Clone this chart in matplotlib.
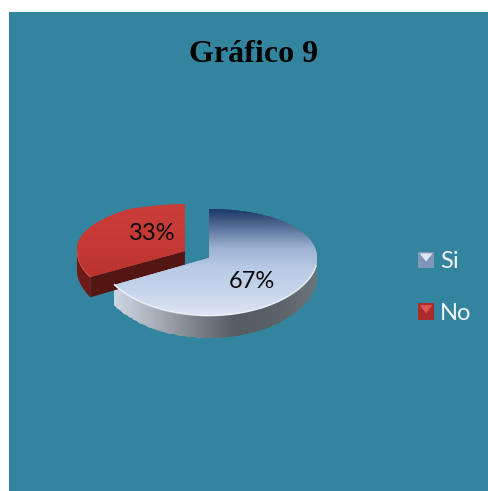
import matplotlib
matplotlib.use("Agg")
import matplotlib.pyplot as plt
import numpy as np
from matplotlib.colors import LinearSegmentedColormap
from matplotlib.legend_handler import HandlerBase
from matplotlib.patches import Patch, Polygon, Rectangle

labels = ["Si", "No"]
values = [67, 33]
title = "Gráfico 9"

W, H = 488, 491
teal = "#33849e"
depth = 0.35

# y goes through a slightly bent scale, so the front of the pie looks closer
def forward(y):
	return 52.5 * np.asarray(y) - 4.5 * np.asarray(y) ** 2

def inverse(v):
	return (52.5 - np.sqrt(np.maximum(52.5 ** 2 - 18.0 * np.asarray(v), 0))) / 9.0

def from_py(py):
	return inverse(254.5 - py)

def px_box(left, top, right, bottom):
	return [left / W, 1 - bottom / H, (right - left) / W, (bottom - top) / H]

# paints a gradient over the axes and clips it to the patch, stops are ascending
def shade(ax, patch, colors, stops, vertical=True, zorder=2):
	cm = LinearSegmentedColormap.from_list("c", colors)
	xs = np.array([-3.0, 3.0])
	ys = np.array([-3.0, 3.0])
	c = np.r_[0, np.linspace(0, 1, 60), 1]
	if vertical:
		ys = np.r_[-3.0, np.linspace(stops[0], stops[1], 60), 3.0]
		C = np.tile(c[:, None], (1, 2))
	else:
		xs = np.r_[-3.0, np.linspace(stops[0], stops[1], 60), 3.0]
		C = np.tile(c[None, :], (2, 1))
	m = ax.pcolormesh(xs, ys, C, cmap=cm, shading="gouraud", vmin=0, vmax=1, zorder=zorder)
	m.set_clip_path(patch)
	return m

def arc(center, r, a, b, n=80):
	t = np.radians(np.linspace(a, b, n))
	return center[0] + r * np.cos(t), center[1] + r * np.sin(t)

fig = plt.figure(figsize=(W / 100, H / 100), dpi=100, facecolor="white")

bg = fig.add_axes(px_box(9, 12, W, H))
bg.set_facecolor(teal)
bg.set_xticks([])
bg.set_yticks([])
for s in bg.spines.values():
	s.set_visible(False)

ax = fig.add_axes(px_box(50, 180, 340, 355))
ax.patch.set_visible(False)
wedges, _ = ax.pie(values, startangle=90, counterclock=False, explode=[0.13, 0.13])
ax.set_aspect("auto")
ax.set_yscale("function", functions=(forward, inverse))
ax.set_xlim((50 - 197) / 108, (340 - 197) / 108)
ax.set_ylim(from_py(355), from_py(180))
ax.axis("off")

blue, red = wedges
blue_end = blue.theta1
red_end = red.theta2 + 360

# side walls first, they sit under the top faces
x, y = arc(blue.center, blue.r, blue_end, 0)
wall = Polygon(np.c_[np.r_[x, x[::-1]], np.r_[y, y[::-1] - depth]], closed=True, fc="none", ec="none")
ax.add_patch(wall)
shade(ax, wall, ["#cdd6e2", "#a9b0ba", "#7d838b", "#565c63", "#5a6168", "#6d747b"],
	(x.min(), x.max()), vertical=False)

x, y = arc(red.center, red.r, 180, red_end, 30)
wall = Polygon(np.c_[np.r_[x, x[::-1]], np.r_[y, y[::-1] - depth]], closed=True, fc="#6e1b17", ec="none", zorder=2)
ax.add_patch(wall)
red_x, red_y = x, y

cx, cy = red.center
face = Polygon([[x[-1], y[-1]], [cx, cy], [cx, cy - depth], [x[-1], y[-1] - depth]],
	closed=True, fc="#541613", ec="none", zorder=2)
ax.add_patch(face)

# top faces
for w in wedges:
	w.set_facecolor("none")
	w.set_edgecolor("none")
shade(ax, blue, ["#dde5f3", "#c6d4ea", "#b9cbe6", "#9db2d2", "#5a7399", "#1d3a68"],
	(blue.center[1] - 1, blue.center[1] + 1), zorder=3)
shade(ax, red, ["#b9322e", "#c53935", "#c93d39"],
	(red.center[1] - 0.5, red.center[1] + 0.9), zorder=3)

# thin light rim along the front edge
x, y = arc(blue.center, blue.r, blue_end, -8)
ax.plot(x, y, color="#f3f6fb", lw=1.1, alpha=0.8, zorder=4)
ax.plot(red_x, red_y, color="#d9605a", lw=0.8, alpha=0.6, zorder=4)

fig.text(252 / W, 1 - 282 / H, "%d%%" % values[0], ha="center", va="center",
	fontsize=17, family="Lato", color="#0a0a0a")
fig.text(152 / W, 1 - 233.5 / H, "%d%%" % values[1], ha="center", va="center",
	fontsize=17, family="Lato", color="#0a0a0a")

fig.text(254 / W, 1 - 54 / H, title, ha="center", va="center", fontsize=23,
	family="Liberation Serif", fontweight="bold", color="black")

class BevelHandler(HandlerBase):
	def create_artists(self, legend, orig, xd, yd, width, height, fontsize, trans):
		x0, y0 = -xd, -yd
		dark, light = orig.get_edgecolor(), orig.get_facecolor()
		base = Rectangle((x0, y0), width, height, fc=dark, ec="none", transform=trans)
		tri = Polygon([[x0 + width * 0.1, y0 + height * 0.9], [x0 + width * 0.9, y0 + height * 0.9],
			[x0 + width * 0.5, y0 + height * 0.4]], closed=True, fc=light, ec="none", transform=trans)
		low = Polygon([[x0 + width * 0.1, y0 + height * 0.9], [x0 + width * 0.9, y0 + height * 0.9],
			[x0 + width * 0.9, y0 + height * 0.15], [x0 + width * 0.1, y0 + height * 0.15]],
			closed=True, fc=dark, alpha=0.55, ec="none", transform=trans)
		return [base, low, tri]

handles = [
	Patch(facecolor="#dfe7f3", edgecolor="#7f97b8"),
	Patch(facecolor="#dc5550", edgecolor="#a92c29"),
]
leg = fig.legend(handles, labels, loc="center left", bbox_to_anchor=(418 / W, 1 - 287.5 / H),
	frameon=False, labelspacing=1.3, handlelength=0.68, handleheight=0.68,
	handletextpad=0.25, borderpad=0, borderaxespad=0,
	prop={"family": "Lato", "size": 17}, handler_map={Patch: BevelHandler()})
for t in leg.get_texts():
	t.set_color("#f2f6f8")

plt.savefig("out.png", dpi=100, facecolor="white")
